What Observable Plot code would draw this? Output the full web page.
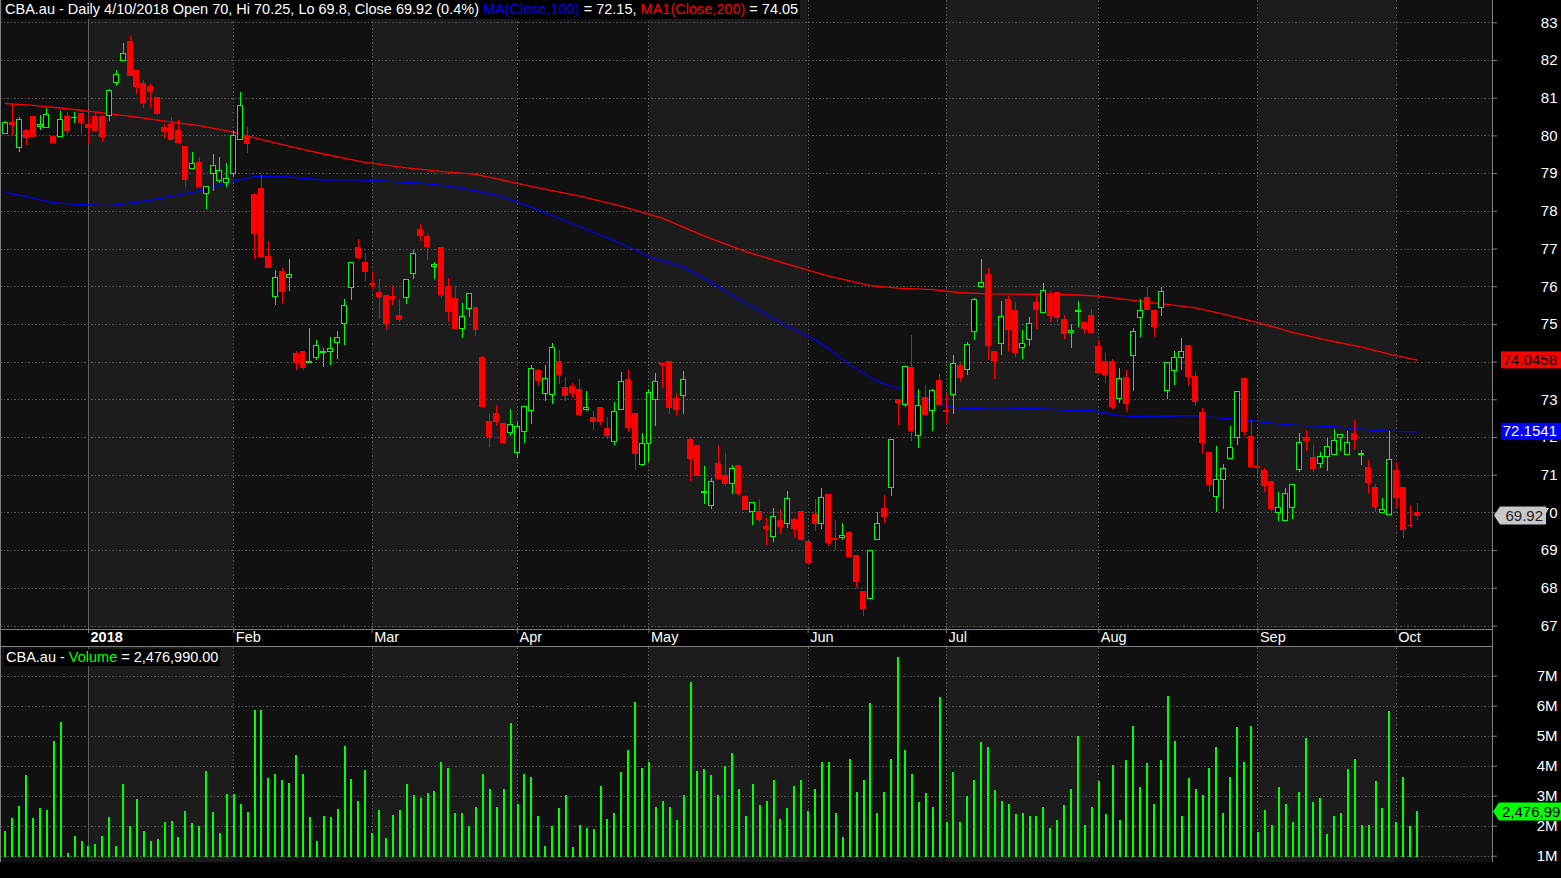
<!DOCTYPE html>
<html>
<head>
<meta charset="utf-8">
<script src="https://cdn.jsdelivr.net/npm/d3@7"></script>
<script src="https://cdn.jsdelivr.net/npm/@observablehq/plot@0.6"></script>
<style>
  body { margin: 0; background: #000; }
  #wrap { position: relative; width: 1561px; height: 878px; background: #000; overflow: hidden;
          font-family: "Liberation Sans", Arial, sans-serif; }
  #price, #vol { position: absolute; left: 0; }
  #price { top: 0; }
  #vol { top: 647px; }
  .hdr { position: absolute; background: #000; color: #fff; font-size: 14.5px; white-space: nowrap; padding: 0 2px; }
  .ln { position: absolute; background: #808080; }
</style>
</head>
<body>
<div id="wrap">
  <div id="price"></div>
  <div id="vol"></div>
  <div class="ln" style="left:0;top:0;width:1px;height:862px"></div>
  <div class="ln" style="left:1492px;top:0;width:1px;height:862px"></div>
  <div class="ln" style="left:0;top:629px;width:1492px;height:1px"></div>
  <div class="ln" style="left:0;top:646px;width:1492px;height:1px"></div>
  <div class="hdr" id="hdr1" style="left:3px;top:0;height:19px;line-height:19px"></div>
  <div class="hdr" id="hdr2" style="left:4px;top:649px;height:17px;line-height:17px"></div>
</div>
<script>
// ---------------- DATA ----------------
const ticker = "CBA.au";
const firstDay = "2017-12-12";
const lastDay = "2018-10-04";
const holidays = ["2017-12-25","2017-12-26","2018-01-01","2018-01-26","2018-03-30","2018-04-02","2018-04-25","2018-06-11"];
const monthNames = ["Jan","Feb","Mar","Apr","May","Jun","Jul","Aug","Sep","Oct","Nov","Dec"];

const opens = [
80.05,80.33,79.68,80.14,80.50,80.23,80.21,79.96,79.98,80.51,
80.47,80.58,80.30,80.50,80.50,80.52,81.41,81.98,82.49,81.73,
81.38,81.31,81.01,80.21,80.30,80.12,79.70,79.11,79.28,78.46,
78.99,78.80,78.74,78.99,79.89,79.96,78.44,78.59,76.80,75.73,
76.40,76.24,74.21,74.27,73.98,74.10,74.25,74.27,74.51,75.02,
75.97,77.03,76.63,76.07,75.83,75.75,75.72,75.22,75.71,76.35,
77.50,77.31,76.51,77.03,75.99,75.67,74.89,75.42,75.43,74.11,
72.41,72.62,72.35,72.13,71.60,72.15,72.70,73.76,73.15,73.12,
74.00,73.31,73.34,73.27,72.74,72.52,72.79,72.23,71.88,72.73,
73.53,72.63,71.27,71.82,72.99,73.96,74.00,73.02,73.09,71.94,
71.78,70.52,70.18,71.30,70.98,70.78,71.25,70.42,70.02,70.02,
69.62,69.37,69.78,69.70,69.81,70.02,69.23,69.95,69.70,70.48,
69.31,69.33,69.47,68.86,67.90,67.71,69.27,70.11,70.65,73.00,
72.85,73.85,72.03,73.05,72.70,73.50,72.69,73.13,73.90,73.80,
74.81,76.00,76.30,74.26,74.48,75.65,75.35,74.38,74.59,75.58,
75.31,75.72,75.82,75.12,74.78,75.33,75.05,75.21,74.39,73.99,
73.99,73.03,73.59,74.17,75.18,75.71,75.35,75.44,73.24,73.77,
74.11,74.44,73.61,72.66,71.60,70.42,70.88,71.43,71.99,73.54,
72.02,71.23,71.10,70.81,70.00,69.78,70.13,71.14,71.99,71.46,
71.30,71.48,71.54,71.99,71.54,72.10,71.54,71.18,70.65,70.00,
69.95,71.12,70.66,69.66,70.00];

const highs = [
80.37,80.83,80.50,80.16,80.52,80.54,80.73,79.98,80.65,80.63,
80.63,80.60,80.54,80.63,80.54,81.22,81.73,82.46,82.64,81.73,
81.47,81.38,81.01,80.30,80.48,80.41,79.70,79.56,79.43,78.64,
79.50,79.42,79.27,80.12,81.15,80.23,78.46,78.95,77.20,76.44,
76.47,76.72,74.29,74.27,74.88,74.58,74.36,74.64,74.81,75.67,
76.64,77.24,76.87,76.39,76.18,75.75,76.04,75.67,76.18,76.95,
77.66,77.40,76.64,77.03,76.23,75.97,75.56,75.80,75.43,74.14,
72.64,72.86,72.37,72.75,72.41,72.80,73.90,73.81,73.90,74.49,
74.30,73.60,73.42,73.53,73.21,72.69,72.79,72.54,72.92,73.72,
73.77,72.63,72.10,73.27,73.69,74.00,74.02,73.18,73.74,71.98,
71.78,71.23,70.90,71.78,71.57,71.27,71.25,70.46,70.26,70.35,
69.86,70.11,70.08,70.58,69.85,70.02,69.23,70.35,70.66,70.48,
69.79,69.73,69.50,68.86,67.90,68.98,70.01,70.45,71.93,73.00,
73.87,74.70,73.27,73.37,73.28,73.66,73.14,74.17,73.96,74.52,
75.70,76.73,76.48,74.26,75.61,75.73,75.58,74.84,75.18,75.74,
76.08,75.86,75.82,75.23,75.00,75.61,75.05,75.39,74.58,74.23,
74.07,73.83,73.77,74.88,75.65,75.98,75.35,75.97,73.98,74.28,
74.62,74.44,73.75,72.77,71.60,71.76,71.28,72.29,73.21,73.54,
72.45,71.70,71.17,70.81,70.54,70.66,70.74,72.10,72.18,71.79,
71.60,71.97,72.21,72.07,72.16,72.45,71.65,71.39,70.75,70.38,
72.17,71.34,70.66,70.20,70.25];

const lows = [
80.03,80.01,79.57,79.74,79.95,80.14,80.21,79.80,79.95,80.04,
80.32,80.05,79.80,80.12,79.83,80.39,81.32,81.98,81.60,81.10,
80.72,80.74,80.54,79.92,79.88,79.81,78.64,79.11,78.64,78.04,
78.53,78.74,78.64,78.90,79.87,79.54,76.71,76.78,76.49,75.49,
75.56,75.88,73.77,73.77,73.98,74.04,73.85,73.92,74.08,74.43,
75.63,76.73,76.13,75.93,75.14,74.83,75.51,75.06,75.52,76.20,
77.19,76.69,76.18,75.69,75.04,74.88,74.63,75.18,74.67,72.81,
71.73,72.28,71.84,72.02,71.44,71.84,72.35,73.34,72.96,72.88,
73.40,72.96,73.03,72.61,72.69,72.19,72.31,71.94,71.79,72.73,
72.13,71.12,71.23,71.34,72.29,73.31,72.62,72.58,72.62,70.83,
70.99,70.22,70.09,70.91,70.70,70.49,70.43,70.09,69.66,69.74,
69.13,69.21,69.43,69.58,69.34,69.25,68.68,69.50,69.55,69.12,
69.00,69.28,68.81,68.02,67.25,67.71,69.27,69.73,70.43,72.32,
72.80,71.89,71.72,72.60,72.16,72.87,72.38,72.62,73.47,73.65,
74.56,75.95,74.05,73.55,74.17,74.27,74.12,74.08,74.42,74.86,
75.31,75.06,75.04,74.61,74.37,74.93,74.74,74.76,73.70,73.43,
72.75,72.89,72.67,73.23,74.64,75.38,74.66,75.22,73.01,73.38,
73.79,73.35,72.82,71.54,70.55,70.02,70.09,71.43,71.80,72.03,
71.21,71.05,70.53,70.05,69.78,69.78,69.83,71.08,71.64,71.08,
71.19,71.11,71.54,71.64,71.54,71.65,71.26,70.52,70.02,70.00,
69.95,70.11,69.33,69.60,69.80];

const closes = [
80.35,80.30,80.42,79.94,79.98,80.30,80.56,79.81,80.41,80.14,
80.48,80.34,80.20,80.12,79.96,81.18,81.62,82.18,81.60,81.29,
80.87,81.16,80.58,80.10,79.89,79.81,78.83,79.26,78.64,78.64,
79.19,79.06,78.85,80.00,80.80,79.79,77.40,76.78,76.49,76.23,
75.86,76.30,73.98,73.85,74.01,74.42,74.27,74.35,74.65,75.48,
76.62,76.76,76.39,76.04,75.73,75.02,75.68,75.12,76.18,76.88,
77.35,77.06,76.58,75.78,75.34,74.88,75.19,75.80,74.86,72.81,
72.02,72.42,71.86,72.32,72.27,72.80,73.81,73.49,73.55,74.37,
73.65,73.09,73.17,72.61,72.77,72.40,72.40,72.05,72.67,73.47,
72.24,71.55,71.82,73.18,73.47,73.92,72.77,72.72,73.52,71.42,
70.99,70.56,70.81,70.91,70.78,71.16,70.49,70.09,70.26,69.80,
69.58,69.88,69.62,70.36,69.58,69.29,68.68,69.70,70.39,69.21,
69.27,69.38,68.84,68.18,67.44,68.98,69.70,69.88,71.93,72.91,
73.87,72.16,72.83,72.60,73.23,72.87,72.67,73.96,73.58,74.46,
75.65,76.11,74.42,74.03,75.20,74.85,74.24,74.49,75.02,75.38,
75.89,75.22,75.17,74.74,74.83,75.35,74.87,74.76,73.70,73.65,
72.81,73.56,72.89,74.81,75.36,75.38,74.93,75.87,73.98,74.12,
74.27,73.60,72.93,71.85,70.73,70.88,71.17,71.73,73.21,72.14,
71.21,71.19,70.71,70.10,70.13,70.51,70.74,71.86,71.90,71.16,
71.48,71.75,71.91,72.07,71.86,71.94,71.57,70.79,70.15,70.08,
71.41,70.39,69.55,69.64,69.92];

// volume, millions of shares
const volumes = [
1.83,2.26,2.66,3.69,2.26,2.59,2.52,4.82,5.46,1.10,
1.66,1.49,1.32,1.39,1.66,2.29,1.32,3.39,1.99,2.89,
1.82,1.49,1.56,2.12,2.16,1.62,2.49,2.09,1.99,3.82,
2.46,1.76,3.06,3.06,2.72,2.46,5.86,5.86,3.59,3.72,
3.52,3.42,4.36,3.72,2.29,1.49,2.32,2.29,2.56,4.66,
3.56,2.82,3.86,1.76,2.52,1.59,2.36,2.52,3.39,3.02,
2.92,3.09,3.16,4.12,3.92,2.42,2.42,1.99,2.62,3.71,
3.21,2.64,3.21,5.44,2.74,3.74,3.64,2.31,1.34,1.98,
2.58,3.04,1.28,2.04,1.94,1.88,3.31,2.21,2.41,3.78,
4.51,6.14,3.94,4.14,2.61,2.84,2.61,2.18,3.04,6.78,
3.81,3.88,3.68,3.01,3.98,4.44,3.21,2.31,3.38,2.68,
2.84,3.54,2.21,2.58,3.31,3.51,2.48,3.21,4.11,4.11,
2.44,1.61,4.21,3.14,3.51,6.08,2.44,3.11,4.21,7.64,
4.54,3.74,2.78,3.08,2.64,6.28,2.11,3.78,2.11,2.98,
3.54,4.78,4.61,3.18,2.81,2.74,2.38,2.41,2.34,2.34,
2.61,1.91,2.18,2.68,3.24,4.98,2.04,2.61,3.48,2.38,
4.01,2.18,4.18,5.31,3.28,4.08,2.71,4.18,6.34,4.84,
2.31,3.58,3.21,3.04,3.94,4.64,2.41,3.64,5.28,4.11,
5.34,1.78,2.54,2.01,3.28,2.74,2.11,3.14,4.94,2.78,
2.91,1.74,2.31,2.44,3.88,4.21,2.01,2.04,3.48,2.58,
5.81,2.11,3.64,1.98,2.47699];

// moving averages at sample trading-day positions
const ma100Day = [0,4,7,12,15,19,23,28,31,33,36,41,46,50,55,60,64,68,71,74,77,83,89,93,98,101,107,113,117,119,122,125,126,129,131,133,135,137,139,143,150,153,157,159,161,163,169,172,174,180,183,186,192,197,200,204];
const ma100Val = [78.50,78.35,78.22,78.17,78.15,78.24,78.36,78.54,78.70,78.81,78.92,78.91,78.83,78.84,78.80,78.75,78.67,78.54,78.42,78.25,78.03,77.59,77.14,76.80,76.52,76.22,75.56,74.95,74.59,74.35,73.93,73.60,73.49,73.30,73.15,73.00,72.88,72.80,72.76,72.79,72.76,72.73,72.72,72.65,72.58,72.56,72.57,72.58,72.54,72.45,72.38,72.33,72.29,72.20,72.17,72.15];
const ma200Day = [0,4,9,14,19,23,28,33,36,40,43,46,52,58,64,68,71,77,83,89,95,101,107,113,119,125,129,134,138,142,149,155,158,163,167,172,176,181,186,191,196,200,204];
const ma200Val = [80.86,80.81,80.72,80.61,80.50,80.39,80.27,80.10,79.95,79.77,79.64,79.52,79.30,79.15,79.04,78.98,78.86,78.62,78.40,78.14,77.81,77.34,76.93,76.60,76.28,76.03,75.96,75.92,75.84,75.81,75.80,75.78,75.75,75.64,75.55,75.44,75.27,75.05,74.79,74.58,74.40,74.21,74.05];
const ma100Last = 72.1541;
const ma200Last = 74.0458;

const priceTicks = [67,68,69,70,71,72,73,74,75,76,77,78,79,80,81,82,83];
const volTicks = [1,2,3,4,5,6,7];

// ---------------- BUILD ----------------
const dates = [];
for (let t = new Date(firstDay + "T00:00:00Z"); t <= new Date(lastDay + "T00:00:00Z"); t = new Date(t.getTime() + 864e5)) {
  const wd = t.getUTCDay();
  const s = t.toISOString().slice(0, 10);
  if (wd !== 0 && wd !== 6 && !holidays.includes(s)) dates.push(new Date(t));
}
const N = Math.min(dates.length, opens.length);
const candles = d3.range(N).map(k => ({
  k, date: dates[k], open: opens[k], high: highs[k], low: lows[k], close: closes[k],
  up: closes[k] >= opens[k]
}));
const volData = d3.range(N).map(k => ({k, v: volumes[k]}));
const ma100 = ma100Day.map((k, j) => ({k, v: ma100Val[j]}));
const ma200 = ma200Day.map((k, j) => ({k, v: ma200Val[j]}));

const monthMarks = [];
for (let k = 1; k < N; k++) {
  const m = dates[k].getUTCMonth();
  if (m !== dates[k - 1].getUTCMonth()) {
    monthMarks.push({k, year: m === 0, label: m === 0 ? String(dates[k].getUTCFullYear()) : monthNames[m]});
  }
}

const xDomain = [-0.717, 214.9];
const priceDomain = [66.934, 83.5915];
const volDomain = [0.957, 7.957];

const edges = [xDomain[0], ...monthMarks.map(m => m.k), xDomain[1]];
const bands = d3.range(edges.length - 1).map(j => ({x1: edges[j], x2: edges[j + 1], light: j % 2 === 1}));

const G = "#00ff00", R = "#ff0000", B = "#0000ff";
const DARK = "#111111", LIGHT = "#1c1c1c", GRID = "#595959", AXIS = "#808080";
const FONT = '"Liberation Sans", Arial, sans-serif';
const halfBody = 0.36;

const price = Plot.plot({
  width: 1561, height: 647,
  marginLeft: 0, marginRight: 69, marginTop: 0, marginBottom: 19,
  x: {domain: xDomain, axis: null},
  y: {domain: priceDomain, axis: null},
  style: {background: "transparent", fontFamily: FONT, overflow: "visible"},
  marks: [
    Plot.rect(bands.filter(b => !b.light), {x1: "x1", x2: "x2", fill: DARK}),
    Plot.rect(bands.filter(b => b.light), {x1: "x1", x2: "x2", fill: LIGHT}),
    Plot.ruleY(priceTicks, {stroke: GRID, strokeDasharray: "1.5,2", shapeRendering: "crispEdges"}),
    Plot.ruleX(monthMarks.filter(m => !m.year), {x: "k", stroke: GRID, strokeDasharray: "1.5,2", shapeRendering: "crispEdges"}),
    Plot.ruleX(monthMarks.filter(m => m.year), {x: "k", stroke: "#606060", shapeRendering: "crispEdges"}),
    Plot.line(ma100, {x: "k", y: "v", stroke: B, strokeWidth: 1.3}),
    Plot.line(ma200, {x: "k", y: "v", stroke: R, strokeWidth: 1.3}),
    Plot.ruleX(candles, {filter: d => d.up, x: "k", y1: "low", y2: "high", stroke: G, shapeRendering: "crispEdges"}),
    Plot.ruleX(candles, {filter: d => !d.up, x: "k", y1: "low", y2: "high", stroke: R, shapeRendering: "crispEdges"}),
    Plot.rect(candles, {filter: d => d.up, x1: d => d.k - halfBody, x2: d => d.k + halfBody, y1: "open", y2: "close",
      fill: "#000", stroke: G, strokeWidth: 1, shapeRendering: "crispEdges"}),
    Plot.rect(candles, {filter: d => !d.up, x1: d => d.k - halfBody, x2: d => d.k + halfBody, y1: "open", y2: "close",
      fill: R, stroke: R, strokeWidth: 1, shapeRendering: "crispEdges"}),
    Plot.axisX({ticks: monthMarks.map(m => m.k), tickSize: 5, tickFormat: () => "", label: null, stroke: AXIS}),
    Plot.text(monthMarks.filter(m => !m.year), {x: "k", text: "label", frameAnchor: "bottom", dy: 13, dx: 2,
      textAnchor: "start", fill: "#fff", fontSize: 14.5}),
    Plot.text(monthMarks.filter(m => m.year), {x: "k", text: "label", frameAnchor: "bottom", dy: 13, dx: 2,
      textAnchor: "start", fill: "#fff", fontSize: 14.5, fontWeight: "bold"}),
    Plot.axisY({anchor: "right", ticks: priceTicks, tickSize: 4, tickFormat: () => "", label: null, stroke: AXIS}),
    Plot.text(priceTicks, {y: d => d, text: d => String(d), frameAnchor: "right", dx: 65, textAnchor: "end",
      fill: "#fff", fontSize: 15})
  ]
});
document.getElementById("price").appendChild(price);

const vol = Plot.plot({
  width: 1561, height: 231,
  marginLeft: 0, marginRight: 69, marginTop: 0, marginBottom: 21,
  x: {domain: xDomain, axis: null},
  y: {domain: volDomain, axis: null},
  style: {background: "transparent", fontFamily: FONT, overflow: "visible"},
  marks: [
    Plot.rect(bands.filter(b => !b.light), {x1: "x1", x2: "x2", fill: DARK, insetBottom: -5}),
    Plot.rect(bands.filter(b => b.light), {x1: "x1", x2: "x2", fill: LIGHT, insetBottom: -5}),
    Plot.ruleY(volTicks, {stroke: GRID, strokeDasharray: "1.5,2", shapeRendering: "crispEdges"}),
    Plot.ruleX(monthMarks.filter(m => !m.year), {x: "k", stroke: GRID, strokeDasharray: "1.5,2", shapeRendering: "crispEdges"}),
    Plot.ruleX(monthMarks.filter(m => m.year), {x: "k", stroke: "#606060", shapeRendering: "crispEdges"}),
    Plot.ruleX(volData, {x: "k", y1: volDomain[0], y2: "v", stroke: G, strokeWidth: 2, shapeRendering: "crispEdges"}),
    Plot.axisY({anchor: "right", ticks: volTicks, tickSize: 4, tickFormat: () => "", label: null, stroke: AXIS}),
    Plot.text(volTicks, {y: d => d, text: d => d + "M", frameAnchor: "right", dx: 65, textAnchor: "end",
      fill: "#fff", fontSize: 15})
  ]
});
document.getElementById("vol").appendChild(vol);

// ---------- value flags on the right axes (positioned by the plots' own y scales) ----------
function flagRect(svg, yc, fill, txt, txtFill) {
  const g = d3.select(svg).append("g").attr("font-family", FONT).attr("font-size", 15);
  g.append("rect").attr("x", 1501).attr("y", yc - 8.5).attr("width", 60).attr("height", 17).attr("fill", fill);
  g.append("text").attr("x", 1557).attr("y", yc).attr("dy", "0.35em").attr("text-anchor", "end").attr("fill", txtFill).text(txt);
}
function flagArrow(svg, yc, x0, x1, fill, txt, txtFill, anchor, tx) {
  const g = d3.select(svg).append("g").attr("font-family", FONT).attr("font-size", 15);
  g.append("path").attr("d", `M${x0},${yc}L${x0 + 6},${yc - 9}L${x1},${yc - 9}L${x1},${yc + 9}L${x0 + 6},${yc + 9}Z`).attr("fill", fill);
  g.append("text").attr("x", tx).attr("y", yc).attr("dy", "0.35em").attr("text-anchor", anchor).attr("fill", txtFill).text(txt);
}
const py = price.scale("y");
flagRect(price, py.apply(ma200Last), R, String(ma200Last), "#000");
flagRect(price, py.apply(ma100Last), B, String(ma100Last), "#fff");
const lastC = candles[N - 1];
flagArrow(price, py.apply(lastC.close), 1494, 1546, "#c8c8c8", lastC.close.toFixed(2), "#222", "end", 1543);
const vy = vol.scale("y");
const lastV = volumes[N - 1];
flagArrow(vol, vy.apply(lastV), 1493, 1562, G, d3.format(",")(Math.round(lastV * 1e6)), "#000", "start", 1502);

// ---------- headers ----------
const prevC = candles[N - 2].close;
const pct = ((lastC.close - prevC) / prevC * 100).toFixed(1);
const dstr = `${lastC.date.getUTCDate()}/${lastC.date.getUTCMonth() + 1}/${lastC.date.getUTCFullYear()}`;
document.getElementById("hdr1").innerHTML =
  `${ticker} - Daily ${dstr} Open ${lastC.open}, Hi ${lastC.high}, Lo ${lastC.low}, Close ${lastC.close} (${pct}%) ` +
  `<span style="color:${B}">MA(Close,100)</span> = ${ma100Last.toFixed(2)}, ` +
  `<span style="color:${R}">MA1(Close,200)</span> = ${ma200Last.toFixed(2)}`;
document.getElementById("hdr2").innerHTML =
  `${ticker} - <span style="color:${G}">Volume</span> = ${d3.format(",.2f")(lastV * 1e6)}`;
</script>
</body>
</html>
